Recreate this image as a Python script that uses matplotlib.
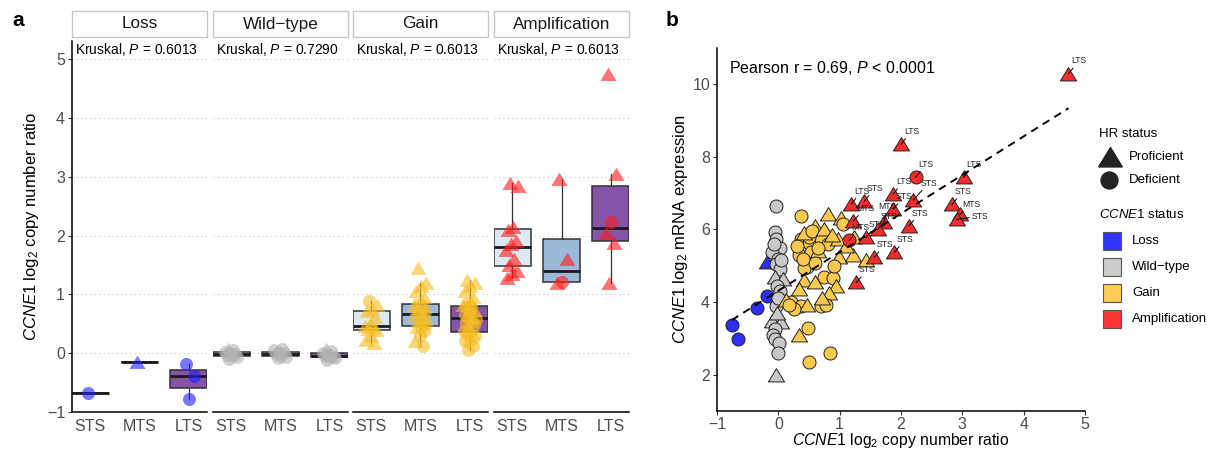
import numpy as np
import matplotlib
matplotlib.use('Agg')
from matplotlib import pyplot as plt
from matplotlib.patches import Rectangle
from matplotlib.lines import Line2D

plt.rcParams['font.family'] = ['Liberation Sans', 'DejaVu Sans']
plt.rcParams['mathtext.fontset'] = 'custom'
plt.rcParams['mathtext.rm'] = 'Liberation Sans'
plt.rcParams['mathtext.it'] = 'Liberation Sans:italic'
plt.rcParams['mathtext.bf'] = 'Liberation Sans:bold'

# HR codes: P = proficient (triangle), D = deficient (circle)

# ---- panel a: CCNE1 copy number ratio per survival group
loss_sts = [-0.68]
loss_sts_hr = "D"
loss_mts = [-0.15]
loss_mts_hr = "P"
loss_lts = [-0.19, -0.39, -0.78]
loss_lts_hr = "DDD"

wt_sts = [-0.10, -0.07, -0.05, -0.03, -0.02, 0.00, 0.02, 0.05, 0.08]
wt_sts_hr = "DDDDDDDDP"
wt_mts = [-0.08, -0.06, -0.04, -0.02, 0.00, 0.02, 0.05, 0.08]
wt_mts_hr = "DDDDDDDD"
wt_lts = [-0.12, -0.08, -0.06, -0.05, -0.04, -0.03, 0.00, 0.03, 0.08]
wt_lts_hr = "DDDDDDDDP"

gain_sts = [0.88, 0.82, 0.75, 0.72, 0.62, 0.50, 0.47, 0.45, 0.42, 0.40, 0.30, 0.22, 0.18]
gain_sts_hr = "DPPPPPPPPPPPP"
gain_mts = [1.45, 1.20, 1.15, 1.05, 0.95, 0.83, 0.82, 0.80, 0.75, 0.70, 0.66,
            0.65, 0.60, 0.55, 0.50, 0.47, 0.45, 0.38, 0.30, 0.20, 0.12]
gain_mts_hr = "PPPPPDPDPDDPDPDDPDDPD"
gain_lts = [1.25, 1.20, 1.15, 1.05, 0.95, 0.85, 0.82, 0.80, 0.78, 0.74, 0.70, 0.65, 0.62, 0.60,
            0.58, 0.55, 0.52, 0.48, 0.42, 0.38, 0.35, 0.33, 0.30, 0.25, 0.20, 0.12, 0.05]
gain_lts_hr = "PPPPPDPDDPDDPDDPDDPDPDDPDDD"

amp_sts = [2.90, 2.85, 2.15, 2.10, 1.90, 1.85, 1.75, 1.60, 1.50, 1.40, 1.35, 1.28]
amp_sts_hr = "PPPPPPPPPPPP"
amp_mts = [2.97, 1.60, 1.21, 1.20]
amp_mts_hr = "PPDP"
amp_lts = [4.75, 3.05, 2.23, 2.04, 1.87, 1.19]
amp_lts_hr = "PPDPPP"

status_names = ["Loss", "Wild\u2212type", "Gain", "Amplification"]
survival_groups = ["STS", "MTS", "LTS"]
kruskal_p = ["0.6013", "0.7290", "0.6013", "0.6013"]

# ---- panel b: copy number vs mRNA expression
loss_cn = [-0.76, -0.65, -0.34, -0.18, -0.18]
loss_expr = [3.38, 2.98, 3.83, 4.16, 5.10]
loss_hr = "DDDDP"

wt_cn = [-0.03, -0.06, -0.03, 0.02, -0.10, 0.00, -0.04, 0.02, -0.05, 0.08, -0.02, 0.03,
         -0.04, -0.10, 0.04, -0.06, -0.08, -0.05, 0.01, 0.00, -0.03, -0.07, 0.00, -0.02, 0.05]
wt_expr = [6.64, 5.92, 5.75, 5.50, 5.38, 5.20, 5.05, 4.90, 4.70, 4.65, 4.45, 4.30,
           3.90, 3.48, 3.45, 3.25, 3.10, 2.98, 2.88, 2.60, 2.00, 5.60, 4.10, 3.70, 5.15]
wt_hr = "DDDDDDDDPPDDDPPDDDDDPDDPD"

gain_cn = [0.37, 0.81, 0.60, 1.02, 1.06, 0.37, 0.50, 0.70, 0.81, 0.34, 0.54, 0.46, 0.65,
           0.97, 0.99, 1.22, 1.43, 1.24, 0.75, 0.89, 0.42, 0.34, 0.94, 0.83, 0.21, 0.37,
           0.46, 0.70, 0.78, 0.13, 0.34, 0.49, 0.50, 0.85, 0.42, 0.59, 0.65, 0.50, 0.30,
           0.42, 0.55, 0.75, 0.88, 1.10, 0.25, 0.60, 0.18, 0.90, 0.40, 0.72]
gain_expr = [6.37, 6.42, 6.10, 6.33, 6.14, 5.73, 5.64, 5.73, 5.59, 5.31, 5.37, 4.98, 5.40,
             5.73, 5.23, 5.31, 5.17, 5.80, 4.70, 4.67, 4.62, 4.35, 4.43, 4.26, 3.99, 3.88,
             3.93, 3.88, 3.93, 4.07, 3.10, 3.30, 2.36, 2.61, 4.95, 5.09, 5.50, 5.78, 5.55,
             5.90, 5.95, 6.00, 5.85, 5.55, 3.80, 4.55, 3.93, 5.00, 5.20, 4.10]
gain_hr = "DPPPDDDDDDDDPPPPPPDDPPPPDDPDDPPDDDDDDDDPDPPPDPDDDP"

amp_cn = [4.73, 2.00, 2.24, 3.02, 1.87, 2.20, 1.19, 1.40, 1.87, 1.72, 1.62,
          1.22, 1.43, 2.13, 2.83, 2.96, 2.91, 1.56, 1.89, 1.27, 1.15]
amp_expr = [10.29, 8.35, 7.44, 7.44, 6.97, 6.81, 6.70, 6.78, 6.56, 6.20, 6.00,
            6.23, 5.78, 6.10, 6.69, 6.42, 6.28, 5.23, 5.37, 4.54, 5.70]
amp_hr = "PPDPPPPPPPPPPPPPPPPPD"
amp_group = ["LTS", "LTS", "LTS", "LTS", "LTS", "STS", "LTS", "STS", "STS", "MTS", "STS",
             "MTS", "STS", "STS", "STS", "MTS", "STS", "STS", "STS", "STS", "MTS"]

pearson_text = r"Pearson r = 0.69, $\it{P}$ < 0.0001"

panel_a = [
    [(loss_sts, loss_sts_hr), (loss_mts, loss_mts_hr), (loss_lts, loss_lts_hr)],
    [(wt_sts, wt_sts_hr), (wt_mts, wt_mts_hr), (wt_lts, wt_lts_hr)],
    [(gain_sts, gain_sts_hr), (gain_mts, gain_mts_hr), (gain_lts, gain_lts_hr)],
    [(amp_sts, amp_sts_hr), (amp_mts, amp_mts_hr), (amp_lts, amp_lts_hr)],
]

point_a_colors = ["#1f1fff", "#b3b3b3", "#f7bd22", "#ff1a1a"]
point_b_colors = ["#2e2ef5", "#c8c8c8", "#fbc94e", "#f42c2c"]
legend_colors = ["#3333ff", "#cccccc", "#ffcc55", "#ff3333"]
box_fill = ["#dde9f2", "#9cb9d9", "#8654a6"]
tick_grey = "#4d4d4d"

# flat, equilateral-looking triangle like ggplot shape 17
tri = [(-1.0, -0.8), (1.0, -0.8), (0.0, 0.85), (-1.0, -0.8)]
markers = {"P": tri, "D": "o"}

W, H = 1218, 449
fig = plt.figure(figsize=(W / 100, H / 100), dpi=100)


def px_axes(x0, y0, x1, y1):
    # axes from a pixel box, origin at top-left
    return fig.add_axes([x0 / W, 1 - y1 / H, (x1 - x0) / W, (y1 - y0) / H])


# ---------------- panel a ----------------
facet_left = [72, 213, 353, 494]
facet_w = 135
for k, status in enumerate(status_names):
    ax = px_axes(facet_left[k], 41, facet_left[k] + facet_w, 412)
    for j, (vals, hr) in enumerate(panel_a[k]):
        pos = j + 1
        ax.boxplot([vals], positions=[pos], widths=0.76, patch_artist=True,
                   showfliers=False, showcaps=False, manage_ticks=False,
                   boxprops=dict(facecolor=box_fill[j], edgecolor="#333333", lw=1.1),
                   medianprops=dict(color="#1a1a1a", lw=2.0),
                   whiskerprops=dict(color="#333333", lw=0.9))
        vals = np.asarray(vals)
        idx = np.arange(len(vals))
        jit = ((idx * 0.618 + 0.3) % 1 - 0.5) * 0.26
        for code in "PD":
            m = np.array([c == code for c in hr])
            if m.any():
                ax.scatter(pos + jit[m], vals[m], marker=markers[code],
                           s=135 if code == "P" else 88, color=point_a_colors[k],
                           alpha=0.6, linewidths=0, zorder=3)

    ax.set_xlim(0.63, 3.37)
    ax.set_ylim(-1, 5.31)
    ax.set_yticks([-1, 0, 1, 2, 3, 4, 5])
    ax.yaxis.grid(True, linestyle=(0, (1, 3)), color="#c8c8c8", lw=0.8)
    ax.set_axisbelow(True)
    for s in ["top", "right"]:
        ax.spines[s].set_visible(False)
    ax.spines["bottom"].set_linewidth(1.1)
    if k == 0:
        ax.spines["left"].set_linewidth(1.1)
        ax.tick_params(axis="y", labelsize=11.5, labelcolor=tick_grey, length=3, width=0.8,
                       color="#333333", pad=2)
        ax.set_yticklabels(["\u22121", "0", "1", "2", "3", "4", "5"])
        ax.set_ylabel(r"$\it{CCNE1}$ log$_2$ copy number ratio", fontsize=12, labelpad=4)
    else:
        ax.spines["left"].set_visible(False)
        ax.tick_params(axis="y", left=False, labelleft=False)
    ax.set_xticks([1, 2, 3])
    ax.set_xticklabels(survival_groups)
    ax.tick_params(axis="x", labelsize=11.5, labelcolor=tick_grey, length=0, pad=5)

    # facet strip
    ax.add_patch(Rectangle((0, 1 + 4 / 371), 1, 26 / 371, transform=ax.transAxes,
                           facecolor="white", edgecolor="#c8c8c8", lw=1.0, clip_on=False))
    ax.text(0.5, 1 + 17 / 371, status, transform=ax.transAxes, ha="center", va="center",
            fontsize=12.3, color="#1a1a1a")
    ax.text(0.02, 0.999, r"Kruskal, $\it{P}$ = " + kruskal_p[k], transform=ax.transAxes,
            ha="left", va="top", fontsize=10, color="black")

fig.text(18 / W, 1 - 20 / H, "a", fontsize=15, fontweight="bold", ha="center", va="center")

# ---------------- panel b ----------------
axb = px_axes(717, 48, 1085, 411)
axb.set_xlim(-1, 5)
axb.set_ylim(1, 11)
axb.set_xticks([-1, 0, 1, 2, 3, 4, 5])
axb.set_xticklabels(["\u22121", "0", "1", "2", "3", "4", "5"])
axb.set_yticks([2, 4, 6, 8, 10])
for s in ["top", "right"]:
    axb.spines[s].set_visible(False)
for s in ["left", "bottom"]:
    axb.spines[s].set_linewidth(1.1)
axb.tick_params(labelsize=11.5, labelcolor=tick_grey, length=3, width=0.8, color="#333333", pad=2)
axb.tick_params(axis="x", pad=1.5)
axb.set_xlabel(r"$\it{CCNE1}$ log$_2$ copy number ratio", fontsize=11.3, labelpad=-1)
axb.set_ylabel(r"$\it{CCNE1}$ log$_2$ mRNA expression", fontsize=12, labelpad=2)

series_b = [(loss_cn, loss_expr, loss_hr), (wt_cn, wt_expr, wt_hr),
            (gain_cn, gain_expr, gain_hr), (amp_cn, amp_expr, amp_hr)]
for k, (cn, ex, hr) in enumerate(series_b):
    for i in range(len(cn)):
        code = hr[i]
        axb.scatter(cn[i], ex[i], marker=markers[code], s=135 if code == "P" else 88,
                    facecolor=point_b_colors[k], edgecolor="#222222", linewidths=0.7,
                    zorder=2 + k * 0.1)

all_cn = np.concatenate([np.asarray(s[0]) for s in series_b])
all_ex = np.concatenate([np.asarray(s[1]) for s in series_b])
slope, icpt = np.polyfit(all_cn, all_ex, 1)
xfit = np.array([all_cn.min(), all_cn.max()])
axb.plot(xfit, slope * xfit + icpt, ls=(0, (4, 3)), color="black", lw=1.4, zorder=4)

# label placement (points) for the amplified samples; crowded ones pushed aside
label_shift = [(2, 6)] * len(amp_group)
label_shift[5] = (5, 9)      # STS next to the LTS circle
label_shift[15] = (2, 4)     # MTS
label_shift[16] = (11, -1)   # STS just below it
label_shift[9] = (-4, 8)     # MTS in the 1.6-1.9 cluster
for (x, y, lab), (dx, dy) in zip(zip(amp_cn, amp_expr, amp_group), label_shift):
    axb.annotate(lab, (x, y), xytext=(dx, dy), textcoords="offset points", fontsize=6.2,
                 color="#222222", ha="left", va="bottom",
                 arrowprops=dict(arrowstyle="-", color="black", lw=0.7, shrinkA=0, shrinkB=0),
                 zorder=5)

axb.text(-0.8, 10.45, pearson_text, fontsize=11.5, ha="left", va="center")
fig.text(672 / W, 1 - 20 / H, "b", fontsize=15, fontweight="bold", ha="center", va="center")


# ---------------- legends (drawn in figure pixels) ----------------
def fig_marker(x, y, **kw):
    fig.add_artist(Line2D([x / W], [1 - y / H], transform=fig.transFigure, ls="none", **kw))


def fig_label(x, y, s, **kw):
    fig.text(x / W, 1 - y / H, s, ha="left", va="center", fontsize=9.5, **kw)


fig_label(1099, 134, "HR status")
fig_marker(1110, 157, marker=tri, markersize=17, color="#222222")
fig_label(1129, 157, "Proficient")
fig_marker(1109, 180, marker="o", markersize=12.2, color="#222222")
fig_label(1129, 180, "Deficient")

fig_label(1099, 215, r"$\it{CCNE1}$ status")
for i, (name, col) in enumerate(zip(status_names, legend_colors)):
    y = 241 + i * 26
    fig_marker(1112, y, marker="s", markersize=12.5, markerfacecolor=col,
               markeredgecolor="#555555", markeredgewidth=0.8)
    fig_label(1132, y, name)

fig.savefig("out.png", dpi=100)
